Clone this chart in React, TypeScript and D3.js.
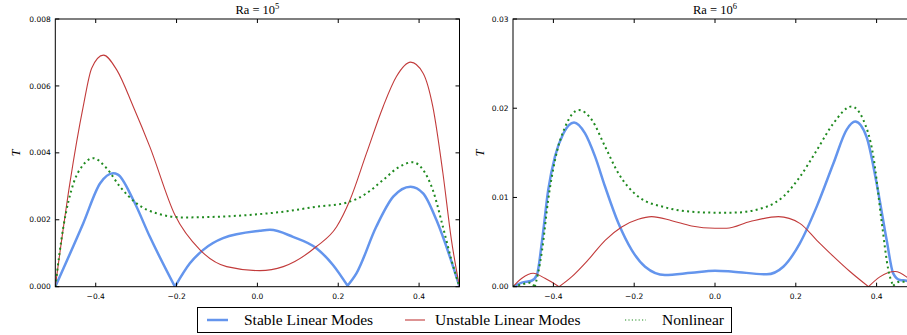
import React from 'react';
import * as d3 from 'd3';

// ---------- data ----------
const leftStableX = [-0.5, -0.431, -0.389, -0.357, -0.345, -0.307, -0.266, -0.204, -0.167, -0.134, -0.085, 0.006, 0.031, 0.088, 0.146, 0.187, 0.223, 0.245, 0.294, 0.336, 0.379, 0.41, 0.443, 0.476, 0.5];
const leftStableT = [0, 0.00189, 0.00309, 0.00339, 0.00335, 0.00259, 0.00149, 0, 0.0007, 0.0011, 0.00145, 0.00167, 0.0017, 0.00149, 0.00115, 0.00065, 0.00003, 0.0004, 0.00179, 0.00269, 0.00299, 0.00279, 0.00199, 0.0009, 0];

const leftUnstableX = [-0.5, -0.464, -0.431, -0.41, -0.381, -0.348, -0.307, -0.266, -0.204, -0.142, -0.076, 0.006, 0.064, 0.146, 0.196, 0.229, 0.27, 0.311, 0.344, 0.379, 0.41, 0.434, 0.459, 0.48, 0.5];
const leftUnstableT = [0, 0.00309, 0.00538, 0.00653, 0.00692, 0.00648, 0.00538, 0.00418, 0.00214, 0.0011, 0.0006, 0.00048, 0.0006, 0.0012, 0.00179, 0.00259, 0.00399, 0.00538, 0.00628, 0.00671, 0.00638, 0.00538, 0.00339, 0.0014, 0];

const leftNonlinearX = [-0.5, -0.48, -0.455, -0.431, -0.406, -0.373, -0.34, -0.299, -0.249, -0.184, -0.101, 0.006, 0.064, 0.146, 0.22, 0.27, 0.311, 0.352, 0.384, 0.41, 0.434, 0.459, 0.48, 0.5];
const leftNonlinearT = [0, 0.00179, 0.00309, 0.00364, 0.00384, 0.00354, 0.00299, 0.00249, 0.00219, 0.00207, 0.00209, 0.00217, 0.00224, 0.00239, 0.00251, 0.00279, 0.00319, 0.00359, 0.00372, 0.00349, 0.00289, 0.00179, 0.0008, 0];

const rightStableX = [-0.5, -0.478, -0.454, -0.441, -0.428, -0.413, -0.396, -0.375, -0.349, -0.322, -0.297, -0.272, -0.239, -0.206, -0.173, -0.124, -0.058, 0.0, 0.045, 0.128, 0.169, 0.21, 0.252, 0.293, 0.326, 0.347, 0.375, 0.4, 0.425, 0.441, 0.458, 0.474, 0.5];
const rightStableT = [0, 0.00045, 0.00067, 0.0013, 0.0052, 0.0108, 0.0146, 0.0172, 0.0184, 0.0172, 0.0146, 0.0112, 0.0071, 0.0041, 0.00224, 0.00131, 0.00157, 0.00179, 0.00168, 0.00139, 0.00224, 0.00486, 0.009, 0.0138, 0.0176, 0.0185, 0.0168, 0.0116, 0.0052, 0.0015, 0.00075, 0.00067, 0];

const rightUnstableX = [-0.5, -0.478, -0.45, -0.421, -0.386, -0.355, -0.314, -0.272, -0.231, -0.19, -0.157, -0.107, -0.058, 0.0, 0.029, 0.087, 0.157, 0.21, 0.252, 0.293, 0.334, 0.38, 0.408, 0.446, 0.474, 0.5];
const rightUnstableT = [0, 0.00094, 0.0015, 0.00094, 0, 0.0011, 0.003, 0.0052, 0.0067, 0.00755, 0.00785, 0.0074, 0.0068, 0.00655, 0.00655, 0.0073, 0.00785, 0.0071, 0.0052, 0.0034, 0.0017, 0, 0.0011, 0.0017, 0.0011, 0];

const rightNonlinearX = [-0.5, -0.478, -0.458, -0.446, -0.438, -0.428, -0.413, -0.396, -0.371, -0.337, -0.305, -0.272, -0.239, -0.19, -0.124, -0.058, 0.0, 0.045, 0.128, 0.169, 0.21, 0.252, 0.293, 0.338, 0.367, 0.392, 0.413, 0.429, 0.441, 0.458, 0.474, 0.5];
const rightNonlinearT = [0, 0.00025, 0.00045, 0, 0.0015, 0.0041, 0.0097, 0.0142, 0.0179, 0.0198, 0.0187, 0.0157, 0.0127, 0.0101, 0.0089, 0.0084, 0.0083, 0.0083, 0.00897, 0.0101, 0.0123, 0.0153, 0.0183, 0.0202, 0.0187, 0.0146, 0.0071, 0.0019, 0.0001, 0.00056, 0.00056, 0.0003];

const xTicks = [-0.4, -0.2, 0.0, 0.2, 0.4];
const leftYTicks = [0, 0.002, 0.004, 0.006, 0.008];
const rightYTicks = [0, 0.01, 0.02, 0.03];
const legendLabels = ['Stable Linear Modes', 'Unstable Linear Modes', 'Nonlinear'];

// ---------- styles ----------
const BLUE = '#6495ED';
const RED = '#c23b3b';
const GREEN = '#1f8a1f';
const TICK_FONT = 'DejaVu Sans, sans-serif';
const SERIF = 'Liberation Serif, Times New Roman, serif';

type Pt = [number, number];

function pieces(xs: number[], ys: number[]): Pt[][] {
  const max = d3.max(ys) as number;
  const out: Pt[][] = [];
  let cur: Pt[] = [[xs[0], ys[0]]];
  for (let i = 1; i < xs.length; i++) {
    cur.push([xs[i], ys[i]]);
    if (i < xs.length - 1 && ys[i] <= ys[i - 1] && ys[i] <= ys[i + 1] && ys[i] < 0.03 * max) {
      out.push(cur);
      cur = [[xs[i], ys[i]]];
    }
  }
  out.push(cur);
  return out;
}

interface PanelProps {
  id: string;
  px0: number;
  px1: number;
  pyTop: number;
  pyBottom: number;
  yMax: number;
  yTicks: number[];
  yFmt: string;
  exponent: string;
  labelX: number;
  series: { xs: number[]; ys: number[]; color: string; width: number; dash?: string }[];
}

function Panel(p: PanelProps) {
  const x = d3.scaleLinear().domain([-0.5, 0.5]).range([p.px0, p.px1]);
  const y = d3.scaleLinear().domain([0, p.yMax]).range([p.pyBottom, p.pyTop]);
  const line = d3
    .line<Pt>()
    .x((d) => x(d[0]))
    .y((d) => y(d[1]))
    .curve(d3.curveMonotoneX);
  const fx = d3.format('.1f');
  const fy = d3.format(p.yFmt);
  const tl = 4;
  const cx = (p.px0 + p.px1) / 2;
  return (
    <g>
      <defs>
        <clipPath id={p.id}>
          <rect x={p.px0} y={p.pyTop} width={p.px1 - p.px0} height={p.pyBottom - p.pyTop} />
        </clipPath>
      </defs>
      <g clipPath={`url(#${p.id})`}>
        {p.series.map((s, i) => (
          <path
            key={i}
            d={pieces(s.xs, s.ys).map((pc) => line(pc)).join('')}
            fill="none"
            stroke={s.color}
            strokeWidth={s.width}
            strokeDasharray={s.dash}
            strokeLinejoin="round"
          />
        ))}
      </g>
      <rect x={p.px0} y={p.pyTop} width={p.px1 - p.px0} height={p.pyBottom - p.pyTop} fill="none" stroke="#000" strokeWidth={1} />
      {xTicks.map((t) => (
        <g key={'x' + t}>
          <line x1={x(t)} x2={x(t)} y1={p.pyBottom} y2={p.pyBottom - tl} stroke="#000" />
          <line x1={x(t)} x2={x(t)} y1={p.pyTop} y2={p.pyTop + tl} stroke="#000" />
          <text x={x(t)} y={p.pyBottom + 12} textAnchor="middle" fontFamily={TICK_FONT} fontSize={7.5} fill="#000">
            {fx(t)}
          </text>
        </g>
      ))}
      {p.yTicks.map((t) => (
        <g key={'y' + t}>
          <line x1={p.px0} x2={p.px0 + tl} y1={y(t)} y2={y(t)} stroke="#000" />
          <line x1={p.px1} x2={p.px1 - tl} y1={y(t)} y2={y(t)} stroke="#000" />
          <text x={p.px0 - 4.5} y={y(t)} dy="0.35em" textAnchor="end" fontFamily={TICK_FONT} fontSize={7.5} fill="#000">
            {fy(t)}
          </text>
        </g>
      ))}
      <text x={cx} y={14} textAnchor="middle" fontFamily={SERIF} fontSize={12.5} fill="#000">
        Ra = 10
        <tspan dy={-5} fontSize={8.5}>
          {p.exponent}
        </tspan>
      </text>
      <text
        transform={`translate(${p.labelX},${(p.pyTop + p.pyBottom) / 2}) rotate(-90)`}
        textAnchor="middle"
        fontFamily={SERIF}
        fontStyle="italic"
        fontSize={12}
        fill="#000"
      >
        T
      </text>
    </g>
  );
}

export default function App() {
  const pyTop = 19;
  const pyBottom = 286.7;
  return (
    <svg width={907} height={335} style={{ position: 'absolute', left: 0, top: 0, background: '#fff' }}>
      <rect x={0} y={0} width={907} height={335} fill="#fff" />
      <Panel
        id="clipL"
        px0={55.3}
        px1={459.5}
        pyTop={pyTop}
        pyBottom={pyBottom}
        yMax={0.008}
        yTicks={leftYTicks}
        yFmt=".3f"
        exponent="5"
        labelX={20}
        series={[
          { xs: leftStableX, ys: leftStableT, color: BLUE, width: 2.5 },
          { xs: leftUnstableX, ys: leftUnstableT, color: RED, width: 1.1 },
          { xs: leftNonlinearX, ys: leftNonlinearT, color: GREEN, width: 2, dash: '2,3.3' },
        ]}
      />
      <Panel
        id="clipR"
        px0={513}
        px1={917}
        pyTop={pyTop}
        pyBottom={pyBottom}
        yMax={0.03}
        yTicks={rightYTicks}
        yFmt=".2f"
        exponent="6"
        labelX={484}
        series={[
          { xs: rightStableX, ys: rightStableT, color: BLUE, width: 2.5 },
          { xs: rightUnstableX, ys: rightUnstableT, color: RED, width: 1.1 },
          { xs: rightNonlinearX, ys: rightNonlinearT, color: GREEN, width: 2, dash: '2,3.3' },
        ]}
      />
      {/* legend */}
      <g>
        <rect x={197.5} y={307.5} width={534} height={25} fill="#fff" stroke="#000" strokeWidth={1} />
        <line x1={207} x2={228} y1={320} y2={320} stroke={BLUE} strokeWidth={2.5} />
        <text x={244} y={325} fontFamily={SERIF} fontSize={15.5} fill="#000">
          {legendLabels[0]}
        </text>
        <line x1={405} x2={425} y1={320} y2={320} stroke={RED} strokeWidth={1.1} />
        <text x={435} y={325} fontFamily={SERIF} fontSize={15.5} fill="#000">
          {legendLabels[1]}
        </text>
        <line x1={625} x2={646} y1={320} y2={320} stroke={GREEN} strokeWidth={1.2} strokeDasharray="1.2,2.2" />
        <text x={662} y={325} fontFamily={SERIF} fontSize={15.5} fill="#000">
          {legendLabels[2]}
        </text>
      </g>
    </svg>
  );
}
